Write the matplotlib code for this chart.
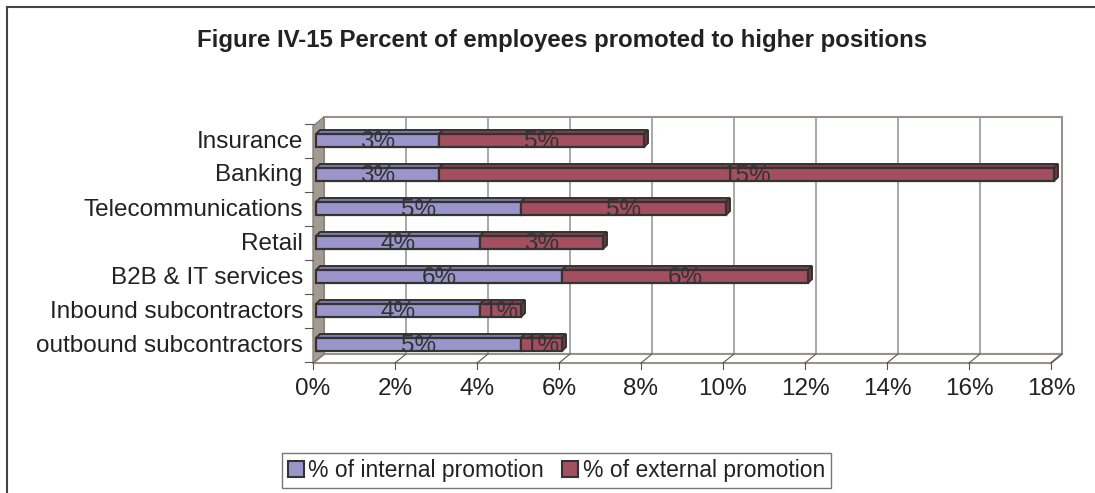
import numpy as np
import matplotlib.pyplot as plt
from matplotlib.patches import Polygon, Rectangle, Patch
from matplotlib.lines import Line2D

plt.rcParams['font.family'] = ['Liberation Sans', 'DejaVu Sans']

# data (bottom to top)
categories = ['outbound subcontractors', 'Inbound subcontractors', 'B2B & IT services',
              'Retail', 'Telecommunications', 'Banking', 'Insurance']
internal = [5, 4, 6, 4, 5, 3, 3]
external = [1, 1, 6, 3, 5, 15, 5]
xticks = [0, 2, 4, 6, 8, 10, 12, 14, 16, 18]
title = 'Figure IV-15 Percent of employees promoted to higher positions'
series_names = ['% of internal promotion', '% of external promotion']

W, H = 1095, 493
fig = plt.figure(figsize=(W / 100, H / 100), dpi=100)

# front plane of the 3d box in pixels
px_l, px_r, px_top, px_bot = 313, 1051, 126, 363
ax = fig.add_axes([px_l / W, 1 - px_bot / H, (px_r - px_l) / W, (px_bot - px_top) / H])
ax.set_xlim(0, 18)
row_px = 34.0
c0_px = 344.5
ylo = (c0_px - px_bot) / row_px
yhi = (c0_px - px_top) / row_px
ax.set_ylim(ylo, yhi)
ax.axis('off')

# pixel -> data conversions for the depth offsets
sx = 18 / (px_r - px_l)
sy = 1 / row_px
wall_dx, wall_dy = 11 * sx, 9 * sy
edge_c = '#9c918a'
grid_c = '#999999'
fs = 17.5

# back wall
ax.add_patch(Rectangle((wall_dx, ylo + wall_dy), 18, yhi - ylo, facecolor='white',
                       edgecolor=edge_c, lw=1.5, clip_on=False, zorder=1))
for t in xticks[1:-1]:
    ax.plot([t + wall_dx, t + wall_dx], [ylo + wall_dy, yhi + wall_dy], color=grid_c, lw=1.2,
            clip_on=False, zorder=1.5)
# floor
ax.add_patch(Polygon([(0, ylo), (18, ylo), (18 + wall_dx, ylo + wall_dy), (wall_dx, ylo + wall_dy)],
                     closed=True, facecolor='white', edgecolor=edge_c, lw=1.5, clip_on=False, zorder=2))
for t in xticks:
    ax.plot([t, t + wall_dx], [ylo, ylo + wall_dy], color='#555555', lw=0.8, clip_on=False, zorder=2.5)
    ax.plot([t, t], [ylo, ylo - 6 * sy], color='#555555', lw=0.8, clip_on=False, zorder=2.5)
    ax.text(t, ylo - 26 * sy, f'{t}%', ha='center', va='center', fontsize=fs, color='#222222')
# left wall
ax.add_patch(Polygon([(0, ylo), (0, yhi), (wall_dx, yhi + wall_dy), (wall_dx, ylo + wall_dy)],
                     closed=True, facecolor='#a39a92', edgecolor='#8a8079', lw=1, clip_on=False, zorder=3))
for i in range(len(categories) + 1):
    yb = i - 0.5
    ax.plot([-8 * sx, 0], [yb, yb], color='#555555', lw=0.8, clip_on=False, zorder=3)

# bars
bh = 13 / row_px
bdx0, bdy0 = 3 * sx, 3 * sy
bdx, bdy = 4 * sx, 4 * sy
cols = [('#9b95cc', '#7f79ad', '#6e6896'), ('#a34f5f', '#863e4c', '#73333f')]
for i, cat in enumerate(categories):
    left = 0
    segs = [internal[i], external[i]]
    for j, v in enumerate(segs):
        fc, tc, sc = cols[j]
        x0 = left + bdx0
        yb = i - bh / 2
        yt = i + bh / 2
        ax.add_patch(Rectangle((x0, yb), v, bh, facecolor=fc, edgecolor='#333333', lw=1.6,
                               clip_on=False, zorder=5))
        ax.add_patch(Polygon([(x0, yt), (x0 + v, yt), (x0 + v + bdx, yt + bdy), (x0 + bdx, yt + bdy)],
                             closed=True, facecolor=tc, edgecolor='#333333', lw=1.4,
                             clip_on=False, zorder=4.9))
        if j == len(segs) - 1:
            xr = x0 + v
            ax.add_patch(Polygon([(xr, yb), (xr, yt), (xr + bdx, yt + bdy), (xr + bdx, yb + bdy)],
                                 closed=True, facecolor=sc, edgecolor='#333333', lw=1.4,
                                 clip_on=False, zorder=4.9))
        ax.text(x0 + v / 2, i - 1 * sy, f'{v}%', ha='center', va='center', fontsize=fs,
                color='#333333', zorder=6)
        left += v
    ax.text(-10 * sx, i - 1 * sy, cat, ha='right', va='center', fontsize=fs, color='#222222')

fig.text(562 / W, 1 - 40 / H, title, ha='center', va='center', fontsize=17.3, fontweight='bold',
         color='#222222')

handles = [Patch(facecolor=cols[0][0], edgecolor='#333333', lw=1.5),
           Patch(facecolor=cols[1][0], edgecolor='#333333', lw=1.5)]
leg = fig.legend(handles, series_names, loc='center', bbox_to_anchor=(556.5 / W, 1 - 470.5 / H),
                 ncol=2, fontsize=16.5, frameon=True, fancybox=False, handlelength=0.7,
                 handleheight=0.7, handletextpad=0.2, columnspacing=0.8, borderpad=0.25,
                 labelcolor='#222222')
leg.get_frame().set_edgecolor('#555555')
leg.get_frame().set_linewidth(1.0)

# outer chart border (left and top visible)
fig.add_artist(Line2D([7 / W, 7 / W], [0, 1 - 7 / H], transform=fig.transFigure, color='#444444', lw=1.5))
fig.add_artist(Line2D([7 / W, 1], [1 - 7 / H, 1 - 7 / H], transform=fig.transFigure, color='#444444', lw=1.5))

fig.savefig('out.png', dpi=100)
